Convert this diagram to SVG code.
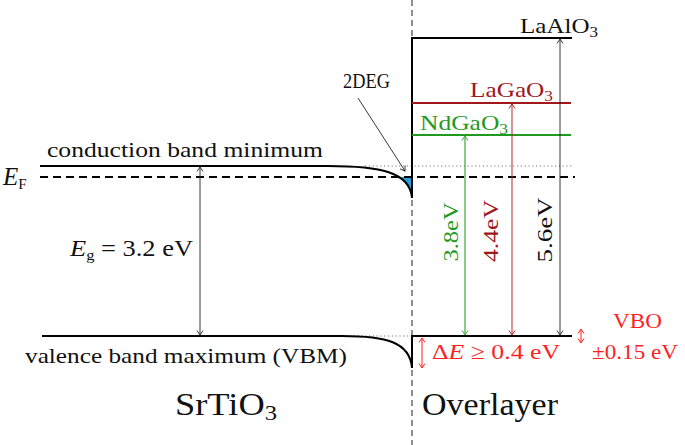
<svg xmlns="http://www.w3.org/2000/svg" width="685" height="445" viewBox="0 0 685 445">
<style>
text{font-family:"Liberation Serif","Times New Roman",serif;font-size:22px;fill:#111}
.big{font-size:31px}
.it{font-style:italic}
.sub{font-size:15px}
.band{fill:none;stroke:#000;stroke-width:2}
.red{fill:#ff1f1f}
.green{fill:#1f9a1f}
.dred{fill:#a0181c}
</style>
<defs>
<marker id="ak" viewBox="-6 -4 7 8" markerWidth="7" markerHeight="8" refX="0" refY="0" orient="auto-start-reverse" markerUnits="userSpaceOnUse"><path d="M-4.5,-3 L0,0 L-4.5,3" fill="none" stroke="#222" stroke-width="0.9"/></marker>
<marker id="ag" viewBox="-6 -4 7 8" markerWidth="7" markerHeight="8" refX="0" refY="0" orient="auto-start-reverse" markerUnits="userSpaceOnUse"><path d="M-4.5,-3 L0,0 L-4.5,3" fill="none" stroke="#3aa83a" stroke-width="1"/></marker>
<marker id="ad" viewBox="-6 -4 7 8" markerWidth="7" markerHeight="8" refX="0" refY="0" orient="auto-start-reverse" markerUnits="userSpaceOnUse"><path d="M-4.5,-3 L0,0 L-4.5,3" fill="none" stroke="#b02a2a" stroke-width="1"/></marker>
<marker id="ar" viewBox="-6 -4 7 8" markerWidth="7" markerHeight="8" refX="0" refY="0" orient="auto-start-reverse" markerUnits="userSpaceOnUse"><path d="M-4.5,-3 L0,0 L-4.5,3" fill="none" stroke="#ff1f1f" stroke-width="1"/></marker>
</defs>

<!-- interface dashed line -->
<line x1="412" y1="0" x2="412" y2="445" stroke="#555" stroke-width="1.3" stroke-dasharray="6,4"/>

<g id="srtio3">
<path d="M365,166 H572" stroke="#777" stroke-width="1" stroke-dasharray="1.2,2.6" fill="none"/>
<path d="M350,336 H412" stroke="#777" stroke-width="1" stroke-dasharray="1.2,2.6" fill="none"/>
<path d="M397,177 L412,177 L412,198 C410,188 405,179.5 397,177 Z" fill="#2a9fdc"/>
<path class="band" d="M40,166 H328 C380,166 410,172 412,198"/>
<path class="band" d="M42,336 H342 C386,336 410,342 412,368"/>
<line x1="40" y1="177" x2="575" y2="177" stroke="#000" stroke-width="1.8" stroke-dasharray="8,5"/>
<text x="47" y="157" textLength="276" lengthAdjust="spacingAndGlyphs">conduction band minimum</text>
<text x="25" y="363" textLength="322" lengthAdjust="spacingAndGlyphs">valence band maximum (VBM)</text>
<text x="3" y="185" font-size="25"><tspan class="it" font-size="25">E</tspan><tspan class="sub" dy="4">F</tspan></text>
<text x="70" y="256" textLength="123" lengthAdjust="spacingAndGlyphs" font-size="24"><tspan class="it" font-size="24">E</tspan><tspan class="sub" dy="4">g</tspan><tspan dy="-4" font-size="24"> = 3.2 eV</tspan></text>
<text x="343" y="88" textLength="47" lengthAdjust="spacingAndGlyphs">2DEG</text>
<text class="big" x="175" y="415" textLength="102" lengthAdjust="spacingAndGlyphs">SrTiO<tspan font-size="21" dy="5">3</tspan></text>
</g>

<g id="overlayer">
<path class="band" d="M412,198 V38 H572"/>
<path class="band" d="M412,368 V336 H572"/>
<line x1="412" y1="103" x2="571" y2="103" stroke="#a0181c" stroke-width="2"/>
<line x1="412" y1="135" x2="571" y2="135" stroke="#1f9a1f" stroke-width="2"/>
<text x="520" y="33" textLength="78" lengthAdjust="spacingAndGlyphs">LaAlO<tspan class="sub" dy="4">3</tspan></text>
<text class="dred" x="470" y="97" textLength="83" lengthAdjust="spacingAndGlyphs">LaGaO<tspan class="sub" dy="4">3</tspan></text>
<text class="green" x="420" y="130" textLength="88" lengthAdjust="spacingAndGlyphs">NdGaO<tspan class="sub" dy="4">3</tspan></text>
<text class="green" transform="translate(458,232) rotate(-90)" text-anchor="middle" font-size="23" textLength="59" lengthAdjust="spacingAndGlyphs">3.8eV</text>
<text class="dred" transform="translate(498,231) rotate(-90)" text-anchor="middle" font-size="23" textLength="62" lengthAdjust="spacingAndGlyphs">4.4eV</text>
<text transform="translate(552,230) rotate(-90)" text-anchor="middle" font-size="23" textLength="65" lengthAdjust="spacingAndGlyphs">5.6eV</text>
<text class="red" x="432" y="359" font-size="24" textLength="128" lengthAdjust="spacingAndGlyphs">Δ<tspan class="it">E</tspan> ≥ 0.4 eV</text>
<text class="red" x="613" y="328" font-size="24" textLength="49" lengthAdjust="spacingAndGlyphs">VBO</text>
<text class="red" x="592" y="359" font-size="24" textLength="86" lengthAdjust="spacingAndGlyphs">±0.15 eV</text>
<text class="big" x="422" y="415" textLength="136" lengthAdjust="spacingAndGlyphs">Overlayer</text>
</g>

<g id="connectors">
<line x1="200" y1="167" x2="200" y2="335" stroke="#222" stroke-width="0.9" marker-start="url(#ak)" marker-end="url(#ak)"/>
<line x1="358" y1="98" x2="405" y2="171" stroke="#222" stroke-width="0.9" marker-end="url(#ak)"/>
<line x1="465" y1="136" x2="465" y2="335" stroke="#3aa83a" stroke-width="1.2" marker-start="url(#ag)" marker-end="url(#ag)"/>
<line x1="512" y1="104" x2="512" y2="335" stroke="#b02a2a" stroke-width="1" marker-start="url(#ad)" marker-end="url(#ad)"/>
<line x1="560" y1="39" x2="560" y2="335" stroke="#222" stroke-width="0.9" marker-start="url(#ak)" marker-end="url(#ak)"/>
<line x1="422" y1="338" x2="422" y2="368" stroke="#ff1f1f" stroke-width="1" marker-start="url(#ar)" marker-end="url(#ar)"/>
<line x1="581" y1="329" x2="581" y2="343" stroke="#ff1f1f" stroke-width="1" marker-start="url(#ar)" marker-end="url(#ar)"/>
</g>
</svg>
